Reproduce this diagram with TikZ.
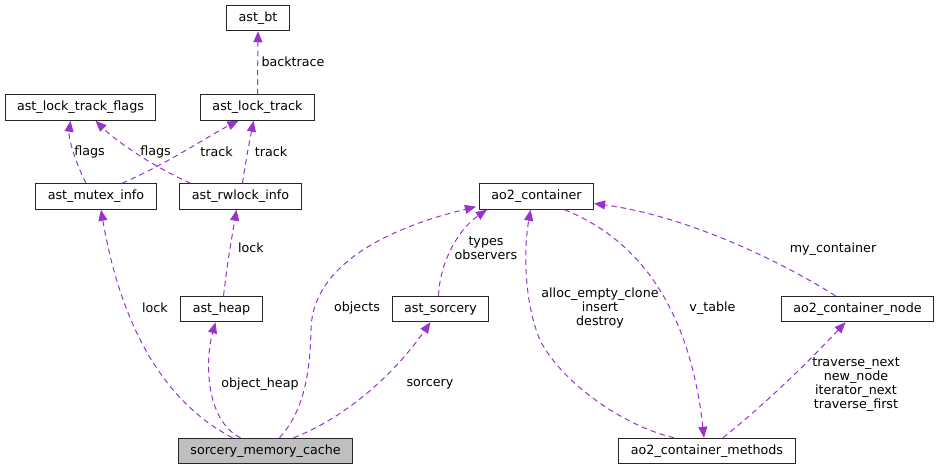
\documentclass[tikz,border=0pt]{standalone}
\usepackage{fontspec}
\setmainfont{DejaVu Sans}
\usepackage{tikz}
\usetikzlibrary{arrows.meta, positioning, calc}
\usepackage{xcolor}

\definecolor{edgepurple}{HTML}{9A32CD}
\definecolor{boxgray}{HTML}{BFBFBF}

\tikzset{
  classbox/.style={draw=black!85, line width=1pt, fill=white, font=\fontsize{12.7pt}{14.3pt}\selectfont,
    inner xsep=12pt, inner ysep=0pt, minimum height=25.5pt, text height=9.5pt, text depth=3pt},
  mainbox/.style={classbox, fill=boxgray},
  uses/.style={edgepurple, line width=1pt, dash pattern=on 5.5pt off 4pt, -{Triangle[length=11pt, width=9pt]}},
  edgelabel/.style={font=\fontsize{12.7pt}{14.3pt}\selectfont, align=center, inner sep=0pt},
}

\begin{document}
\begin{tikzpicture}[x=1pt, y=-1pt]
        \useasboundingbox (0,0) rectangle (939,471);

        % Lock tracking
        \node[classbox] (bt) at (258,18) {ast\_bt};
        \node[classbox] (flags) at (80.5,107.5) {ast\_lock\_track\_flags};
        \node[classbox] (ltrack) at (257.5,107.5) {ast\_lock\_track};
        \node[classbox] (mutex) at (96,196.5) {ast\_mutex\_info};
        \node[classbox] (rwlock) at (240.5,196.5) {ast\_rwlock\_info};

        % Containers
        \node[classbox] (cont) at (536.5,196.5) {ao2\_container};
        \node[classbox] (heap) at (221.5,309) {ast\_heap};
        \node[classbox] (sorc) at (440.5,309) {ast\_sorcery};
        \node[classbox] (cnode) at (857.5,309) {ao2\_container\_node};
        \node[mainbox] (cache) at (265.5,451) {sorcery\_memory\_cache};
        \node[classbox] (meth) at (707,451) {ao2\_container\_methods};

        % Edges, upper left
        \draw[uses] (ltrack.north) -- (bt.south);
        \draw[uses] ([xshift=-10pt]mutex.north) .. controls (78,168) and (68,140) .. ([xshift=-10pt]flags.south);
        \draw[uses] ([xshift=-50pt]rwlock.north) .. controls (150,165) and (115,140) .. ([xshift=15pt]flags.south);
        \draw[uses] ([xshift=26pt]mutex.north) .. controls (165,165) and (210,135) .. ([xshift=-19pt]ltrack.south);
        \draw[uses] ([xshift=2pt]rwlock.north) .. controls (246,160) .. ([xshift=-4pt]ltrack.south);

        % Edges, lower left
        \draw[uses] ([xshift=-33pt]cache.north) .. controls (160,400) and (120,320) .. ([xshift=5pt]mutex.south);
        \draw[uses] ([xshift=-25pt]cache.north) .. controls (205,420) and (205,360) .. ([xshift=-6pt]heap.south);
        \draw[uses] ([xshift=2pt]heap.north) .. controls (228,260) .. ([xshift=-4pt]rwlock.south);
        \draw[uses] ([xshift=14pt]cache.north) .. controls (305,410) and (310,370) .. (311,330)
          .. controls (312,260) and (400,225) .. ([xshift=-3pt,yshift=3pt]cont.south west);
        \draw[uses] ([xshift=28pt]cache.north) .. controls (340,420) and (390,380) .. ([xshift=-10pt]sorc.south);
        \draw[uses] ([xshift=-2pt]sorc.north) .. controls (440,260) and (460,228) .. ([xshift=8pt]cont.south west);

        % Edges, right
        \draw[uses] ([xshift=-33pt]meth.north) .. controls (620,425) and (560,380) .. (540,340)
          .. controls (527,310) and (522,260) .. ([xshift=-6pt]cont.south);
        \draw[uses] ([xshift=28pt]cont.south) .. controls (640,240) and (690,310) .. ([xshift=-3pt]meth.north);
        \draw[uses] ([xshift=-22pt]cnode.north) .. controls (770,255) and (680,215) .. ([yshift=-7pt]cont.east);
        \draw[uses] ([xshift=16pt]meth.north) .. controls (770,400) and (810,360) .. ([xshift=-12pt]cnode.south);

        % Labels
        \node[edgelabel] (lbacktrace) at (293,62) {backtrace};
        \node[edgelabel] (lflagsa) at (89.5,152) {flags};
        \node[edgelabel] (lflagsb) at (155.5,152) {flags};
        \node[edgelabel] (ltracka) at (216.5,152) {track};
        \node[edgelabel] (ltrackb) at (271,152) {track};
        \node[edgelabel] (llocka) at (251,248) {lock};
        \node[edgelabel] (llockb) at (155,308) {lock};
        \node[edgelabel] (lheap) at (260,384) {object\_heap};
        \node[edgelabel] (lobjects) at (357,308) {objects};
        \node[edgelabel] (lsorcery) at (430,384) {sorcery};
        \node[edgelabel] (ltypes) at (486,248) {types\\observers};
        \node[edgelabel] (lalloc) at (600,308) {alloc\_empty\_clone\\insert\\destroy};
        \node[edgelabel] (lvtable) at (712.5,308) {v\_table};
        \node[edgelabel] (lmycont) at (833,249) {my\_container};
        \node[edgelabel] (ltraverse) at (856,384.5) {traverse\_next\\new\_node\\iterator\_next\\traverse\_first};
    \end{tikzpicture}
\end{document}
